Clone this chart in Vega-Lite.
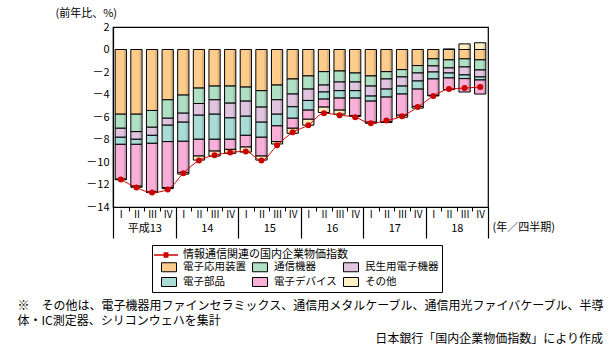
{
  "$schema": "https://vega.github.io/schema/vega-lite/v6.json",
  "width": 375,
  "height": 180,
  "autosize": {"type": "none"},
  "padding": {"left": 113, "top": 27, "right": 125, "bottom": 145},
  "config": {
    "font": "Noto Sans CJK JP",
    "view": {"stroke": "#000", "strokeWidth": 1.2},
    "axis": {"domainColor": "#000", "tickColor": "#000", "labelColor": "#000", "titleColor": "#000", "grid": false, "labelFont": "Noto Sans CJK JP", "titleFont": "Noto Sans CJK JP"},
    "axisY": {"labelOverlap": false},
    "legend": {"labelFont": "Noto Sans CJK JP", "titleFont": "Noto Sans CJK JP", "labelColor": "#000", "titleColor": "#000"}
  },
  "title": {
    "text": "日本銀行「国内企業物価指数」により作成",
    "orient": "bottom",
    "anchor": "end",
    "frame": "group",
    "dx": 115,
    "offset": 8,
    "fontSize": 12,
    "fontWeight": "normal",
    "color": "#000"
  },
  "datasets": {
    "bars": [
      {"q": "13 I", "yr": "平成13", "cat": "電子応用装置", "ord": 1, "v": -5.75},
      {"q": "13 I", "yr": "平成13", "cat": "通信機器", "ord": 2, "v": -1.25},
      {"q": "13 I", "yr": "平成13", "cat": "民生用電子機器", "ord": 3, "v": -0.8},
      {"q": "13 I", "yr": "平成13", "cat": "電子部品", "ord": 4, "v": -0.63},
      {"q": "13 I", "yr": "平成13", "cat": "電子デバイス", "ord": 5, "v": -3.1},
      {"q": "13 I", "yr": "平成13", "cat": "その他", "ord": 6, "v": -0.05},
      {"q": "13 II", "yr": "平成13", "cat": "電子応用装置", "ord": 1, "v": -5.75},
      {"q": "13 II", "yr": "平成13", "cat": "通信機器", "ord": 2, "v": -1.55},
      {"q": "13 II", "yr": "平成13", "cat": "民生用電子機器", "ord": 3, "v": -0.68},
      {"q": "13 II", "yr": "平成13", "cat": "電子部品", "ord": 4, "v": -0.45},
      {"q": "13 II", "yr": "平成13", "cat": "電子デバイス", "ord": 5, "v": -3.72},
      {"q": "13 II", "yr": "平成13", "cat": "その他", "ord": 6, "v": -0.1},
      {"q": "13 III", "yr": "平成13", "cat": "電子応用装置", "ord": 1, "v": -5.42},
      {"q": "13 III", "yr": "平成13", "cat": "通信機器", "ord": 2, "v": -1.49},
      {"q": "13 III", "yr": "平成13", "cat": "民生用電子機器", "ord": 3, "v": -0.72},
      {"q": "13 III", "yr": "平成13", "cat": "電子部品", "ord": 4, "v": -0.71},
      {"q": "13 III", "yr": "平成13", "cat": "電子デバイス", "ord": 5, "v": -4.32},
      {"q": "13 III", "yr": "平成13", "cat": "その他", "ord": 6, "v": -0.06},
      {"q": "13 IV", "yr": "平成13", "cat": "電子応用装置", "ord": 1, "v": -4.47},
      {"q": "13 IV", "yr": "平成13", "cat": "通信機器", "ord": 2, "v": -1.64},
      {"q": "13 IV", "yr": "平成13", "cat": "民生用電子機器", "ord": 3, "v": -0.62},
      {"q": "13 IV", "yr": "平成13", "cat": "電子部品", "ord": 4, "v": -1.46},
      {"q": "13 IV", "yr": "平成13", "cat": "電子デバイス", "ord": 5, "v": -4.08},
      {"q": "13 IV", "yr": "平成13", "cat": "その他", "ord": 6, "v": -0.1},
      {"q": "14 I", "yr": "14", "cat": "電子応用装置", "ord": 1, "v": -4.05},
      {"q": "14 I", "yr": "14", "cat": "通信機器", "ord": 2, "v": -1.61},
      {"q": "14 I", "yr": "14", "cat": "民生用電子機器", "ord": 3, "v": -0.8},
      {"q": "14 I", "yr": "14", "cat": "電子部品", "ord": 4, "v": -1.7},
      {"q": "14 I", "yr": "14", "cat": "電子デバイス", "ord": 5, "v": -2.77},
      {"q": "14 I", "yr": "14", "cat": "その他", "ord": 6, "v": -0.15},
      {"q": "14 II", "yr": "14", "cat": "電子応用装置", "ord": 1, "v": -3.43},
      {"q": "14 II", "yr": "14", "cat": "通信機器", "ord": 2, "v": -1.37},
      {"q": "14 II", "yr": "14", "cat": "民生用電子機器", "ord": 3, "v": -1.04},
      {"q": "14 II", "yr": "14", "cat": "電子部品", "ord": 4, "v": -2.14},
      {"q": "14 II", "yr": "14", "cat": "電子デバイス", "ord": 5, "v": -1.49},
      {"q": "14 II", "yr": "14", "cat": "その他", "ord": 6, "v": -0.36},
      {"q": "14 III", "yr": "14", "cat": "電子応用装置", "ord": 1, "v": -3.25},
      {"q": "14 III", "yr": "14", "cat": "通信機器", "ord": 2, "v": -1.22},
      {"q": "14 III", "yr": "14", "cat": "民生用電子機器", "ord": 3, "v": -1.28},
      {"q": "14 III", "yr": "14", "cat": "電子部品", "ord": 4, "v": -2.23},
      {"q": "14 III", "yr": "14", "cat": "電子デバイス", "ord": 5, "v": -1.05},
      {"q": "14 III", "yr": "14", "cat": "その他", "ord": 6, "v": -0.44},
      {"q": "14 IV", "yr": "14", "cat": "電子応用装置", "ord": 1, "v": -3.25},
      {"q": "14 IV", "yr": "14", "cat": "通信機器", "ord": 2, "v": -1.52},
      {"q": "14 IV", "yr": "14", "cat": "民生用電子機器", "ord": 3, "v": -1.31},
      {"q": "14 IV", "yr": "14", "cat": "電子部品", "ord": 4, "v": -1.9},
      {"q": "14 IV", "yr": "14", "cat": "電子デバイス", "ord": 5, "v": -0.9},
      {"q": "14 IV", "yr": "14", "cat": "その他", "ord": 6, "v": -0.35},
      {"q": "15 I", "yr": "15", "cat": "電子応用装置", "ord": 1, "v": -3.34},
      {"q": "15 I", "yr": "15", "cat": "通信機器", "ord": 2, "v": -1.25},
      {"q": "15 I", "yr": "15", "cat": "民生用電子機器", "ord": 3, "v": -1.34},
      {"q": "15 I", "yr": "15", "cat": "電子部品", "ord": 4, "v": -1.7},
      {"q": "15 I", "yr": "15", "cat": "電子デバイス", "ord": 5, "v": -1.04},
      {"q": "15 I", "yr": "15", "cat": "その他", "ord": 6, "v": -0.45},
      {"q": "15 II", "yr": "15", "cat": "電子応用装置", "ord": 1, "v": -3.66},
      {"q": "15 II", "yr": "15", "cat": "通信機器", "ord": 2, "v": -1.46},
      {"q": "15 II", "yr": "15", "cat": "民生用電子機器", "ord": 3, "v": -1.34},
      {"q": "15 II", "yr": "15", "cat": "電子部品", "ord": 4, "v": -1.34},
      {"q": "15 II", "yr": "15", "cat": "電子デバイス", "ord": 5, "v": -1.67},
      {"q": "15 II", "yr": "15", "cat": "その他", "ord": 6, "v": -0.36},
      {"q": "15 III", "yr": "15", "cat": "電子応用装置", "ord": 1, "v": -3.16},
      {"q": "15 III", "yr": "15", "cat": "通信機器", "ord": 2, "v": -1.31},
      {"q": "15 III", "yr": "15", "cat": "民生用電子機器", "ord": 3, "v": -1.28},
      {"q": "15 III", "yr": "15", "cat": "電子部品", "ord": 4, "v": -1.04},
      {"q": "15 III", "yr": "15", "cat": "電子デバイス", "ord": 5, "v": -1.4},
      {"q": "15 III", "yr": "15", "cat": "その他", "ord": 6, "v": -0.21},
      {"q": "15 IV", "yr": "15", "cat": "電子応用装置", "ord": 1, "v": -2.62},
      {"q": "15 IV", "yr": "15", "cat": "通信機器", "ord": 2, "v": -1.34},
      {"q": "15 IV", "yr": "15", "cat": "民生用電子機器", "ord": 3, "v": -1.13},
      {"q": "15 IV", "yr": "15", "cat": "電子部品", "ord": 4, "v": -1.02},
      {"q": "15 IV", "yr": "15", "cat": "電子デバイス", "ord": 5, "v": -0.89},
      {"q": "15 IV", "yr": "15", "cat": "その他", "ord": 6, "v": -0.45},
      {"q": "16 I", "yr": "16", "cat": "電子応用装置", "ord": 1, "v": -2.35},
      {"q": "16 I", "yr": "16", "cat": "通信機器", "ord": 2, "v": -1.17},
      {"q": "16 I", "yr": "16", "cat": "民生用電子機器", "ord": 3, "v": -1.01},
      {"q": "16 I", "yr": "16", "cat": "電子部品", "ord": 4, "v": -0.86},
      {"q": "16 I", "yr": "16", "cat": "電子デバイス", "ord": 5, "v": -0.81},
      {"q": "16 I", "yr": "16", "cat": "その他", "ord": 6, "v": -0.53},
      {"q": "16 II", "yr": "16", "cat": "電子応用装置", "ord": 1, "v": -1.97},
      {"q": "16 II", "yr": "16", "cat": "通信機器", "ord": 2, "v": -1.19},
      {"q": "16 II", "yr": "16", "cat": "民生用電子機器", "ord": 3, "v": -0.62},
      {"q": "16 II", "yr": "16", "cat": "電子部品", "ord": 4, "v": -0.63},
      {"q": "16 II", "yr": "16", "cat": "電子デバイス", "ord": 5, "v": -0.71},
      {"q": "16 II", "yr": "16", "cat": "その他", "ord": 6, "v": -0.48},
      {"q": "16 III", "yr": "16", "cat": "電子応用装置", "ord": 1, "v": -1.91},
      {"q": "16 III", "yr": "16", "cat": "通信機器", "ord": 2, "v": -0.98},
      {"q": "16 III", "yr": "16", "cat": "民生用電子機器", "ord": 3, "v": -0.77},
      {"q": "16 III", "yr": "16", "cat": "電子部品", "ord": 4, "v": -0.66},
      {"q": "16 III", "yr": "16", "cat": "電子デバイス", "ord": 5, "v": -1.07},
      {"q": "16 III", "yr": "16", "cat": "その他", "ord": 6, "v": -0.36},
      {"q": "16 IV", "yr": "16", "cat": "電子応用装置", "ord": 1, "v": -2.09},
      {"q": "16 IV", "yr": "16", "cat": "通信機器", "ord": 2, "v": -0.8},
      {"q": "16 IV", "yr": "16", "cat": "民生用電子機器", "ord": 3, "v": -0.77},
      {"q": "16 IV", "yr": "16", "cat": "電子部品", "ord": 4, "v": -0.66},
      {"q": "16 IV", "yr": "16", "cat": "電子デバイス", "ord": 5, "v": -1.55},
      {"q": "16 IV", "yr": "16", "cat": "その他", "ord": 6, "v": -0.09},
      {"q": "17 I", "yr": "17", "cat": "電子応用装置", "ord": 1, "v": -2.35},
      {"q": "17 I", "yr": "17", "cat": "通信機器", "ord": 2, "v": -0.9},
      {"q": "17 I", "yr": "17", "cat": "民生用電子機器", "ord": 3, "v": -0.89},
      {"q": "17 I", "yr": "17", "cat": "電子部品", "ord": 4, "v": -0.45},
      {"q": "17 I", "yr": "17", "cat": "電子デバイス", "ord": 5, "v": -1.87},
      {"q": "17 I", "yr": "17", "cat": "その他", "ord": 6, "v": -0.1},
      {"q": "17 II", "yr": "17", "cat": "電子応用装置", "ord": 1, "v": -1.97},
      {"q": "17 II", "yr": "17", "cat": "通信機器", "ord": 2, "v": -0.65},
      {"q": "17 II", "yr": "17", "cat": "民生用電子機器", "ord": 3, "v": -0.9},
      {"q": "17 II", "yr": "17", "cat": "電子部品", "ord": 4, "v": -0.71},
      {"q": "17 II", "yr": "17", "cat": "電子デバイス", "ord": 5, "v": -2.2},
      {"q": "17 II", "yr": "17", "cat": "その他", "ord": 6, "v": -0.05},
      {"q": "17 III", "yr": "17", "cat": "電子応用装置", "ord": 1, "v": -1.79},
      {"q": "17 III", "yr": "17", "cat": "通信機器", "ord": 2, "v": -0.65},
      {"q": "17 III", "yr": "17", "cat": "民生用電子機器", "ord": 3, "v": -0.81},
      {"q": "17 III", "yr": "17", "cat": "電子部品", "ord": 4, "v": -0.71},
      {"q": "17 III", "yr": "17", "cat": "電子デバイス", "ord": 5, "v": -1.88},
      {"q": "17 III", "yr": "17", "cat": "その他", "ord": 6, "v": -0.18},
      {"q": "17 IV", "yr": "17", "cat": "電子応用装置", "ord": 1, "v": -1.43},
      {"q": "17 IV", "yr": "17", "cat": "通信機器", "ord": 2, "v": -0.66},
      {"q": "17 IV", "yr": "17", "cat": "民生用電子機器", "ord": 3, "v": -0.71},
      {"q": "17 IV", "yr": "17", "cat": "電子部品", "ord": 4, "v": -0.72},
      {"q": "17 IV", "yr": "17", "cat": "電子デバイス", "ord": 5, "v": -1.54},
      {"q": "17 IV", "yr": "17", "cat": "その他", "ord": 6, "v": -0.15},
      {"q": "18 I", "yr": "18", "cat": "電子応用装置", "ord": 1, "v": -0.83},
      {"q": "18 I", "yr": "18", "cat": "通信機器", "ord": 2, "v": -0.63},
      {"q": "18 I", "yr": "18", "cat": "民生用電子機器", "ord": 3, "v": -0.54},
      {"q": "18 I", "yr": "18", "cat": "電子部品", "ord": 4, "v": -0.62},
      {"q": "18 I", "yr": "18", "cat": "電子デバイス", "ord": 5, "v": -1.46},
      {"q": "18 I", "yr": "18", "cat": "その他", "ord": 6, "v": -0.05},
      {"q": "18 II", "yr": "18", "cat": "電子応用装置", "ord": 1, "v": -0.92},
      {"q": "18 II", "yr": "18", "cat": "通信機器", "ord": 2, "v": -0.72},
      {"q": "18 II", "yr": "18", "cat": "民生用電子機器", "ord": 3, "v": -0.45},
      {"q": "18 II", "yr": "18", "cat": "電子部品", "ord": 4, "v": -0.44},
      {"q": "18 II", "yr": "18", "cat": "電子デバイス", "ord": 5, "v": -1.04},
      {"q": "18 II", "yr": "18", "cat": "その他", "ord": 6, "v": 0.05},
      {"q": "18 III", "yr": "18", "cat": "電子応用装置", "ord": 1, "v": -0.83},
      {"q": "18 III", "yr": "18", "cat": "通信機器", "ord": 2, "v": -0.72},
      {"q": "18 III", "yr": "18", "cat": "民生用電子機器", "ord": 3, "v": -0.71},
      {"q": "18 III", "yr": "18", "cat": "電子部品", "ord": 4, "v": -0.33},
      {"q": "18 III", "yr": "18", "cat": "電子デバイス", "ord": 5, "v": -1.19},
      {"q": "18 III", "yr": "18", "cat": "その他", "ord": 6, "v": 0.5},
      {"q": "18 IV", "yr": "18", "cat": "電子応用装置", "ord": 1, "v": -0.92},
      {"q": "18 IV", "yr": "18", "cat": "通信機器", "ord": 2, "v": -0.9},
      {"q": "18 IV", "yr": "18", "cat": "民生用電子機器", "ord": 3, "v": -0.62},
      {"q": "18 IV", "yr": "18", "cat": "電子部品", "ord": 4, "v": -0.27},
      {"q": "18 IV", "yr": "18", "cat": "電子デバイス", "ord": 5, "v": -1.25},
      {"q": "18 IV", "yr": "18", "cat": "その他", "ord": 6, "v": 0.6}
    ],
    "idx": [
      {"q": "13 I", "s": "情報通信関連の国内企業物価指数", "v": -11.55},
      {"q": "13 II", "s": "情報通信関連の国内企業物価指数", "v": -12.27},
      {"q": "13 III", "s": "情報通信関連の国内企業物価指数", "v": -12.72},
      {"q": "13 IV", "s": "情報通信関連の国内企業物価指数", "v": -12.45},
      {"q": "14 I", "s": "情報通信関連の国内企業物価指数", "v": -11.0},
      {"q": "14 II", "s": "情報通信関連の国内企業物価指数", "v": -9.86},
      {"q": "14 III", "s": "情報通信関連の国内企業物価指数", "v": -9.41},
      {"q": "14 IV", "s": "情報通信関連の国内企業物価指数", "v": -9.15},
      {"q": "15 I", "s": "情報通信関連の国内企業物価指数", "v": -9.06},
      {"q": "15 II", "s": "情報通信関連の国内企業物価指数", "v": -9.86},
      {"q": "15 III", "s": "情報通信関連の国内企業物価指数", "v": -8.52},
      {"q": "15 IV", "s": "情報通信関連の国内企業物価指数", "v": -7.36},
      {"q": "16 I", "s": "情報通信関連の国内企業物価指数", "v": -6.73},
      {"q": "16 II", "s": "情報通信関連の国内企業物価指数", "v": -5.66},
      {"q": "16 III", "s": "情報通信関連の国内企業物価指数", "v": -5.84},
      {"q": "16 IV", "s": "情報通信関連の国内企業物価指数", "v": -6.02},
      {"q": "17 I", "s": "情報通信関連の国内企業物価指数", "v": -6.55},
      {"q": "17 II", "s": "情報通信関連の国内企業物価指数", "v": -6.32},
      {"q": "17 III", "s": "情報通信関連の国内企業物価指数", "v": -5.93},
      {"q": "17 IV", "s": "情報通信関連の国内企業物価指数", "v": -5.12},
      {"q": "18 I", "s": "情報通信関連の国内企業物価指数", "v": -4.14},
      {"q": "18 II", "s": "情報通信関連の国内企業物価指数", "v": -3.52},
      {"q": "18 III", "s": "情報通信関連の国内企業物価指数", "v": -3.43},
      {"q": "18 IV", "s": "情報通信関連の国内企業物価指数", "v": -3.34}
    ]
  },
  "layer": [
    {
      "layer": [
        {
          "data": {"name": "bars"},
          "mark": {"type": "bar", "width": {"band": 0.72}, "stroke": "#000", "strokeWidth": 1},
          "encoding": {
            "x": {
              "field": "q", "type": "nominal", "sort": null,
              "scale": {"paddingInner": 0, "paddingOuter": 0},
              "axis": {
                "orient": "bottom",
                "labelExpr": "split(datum.value, ' ')[1]",
                "labelAngle": 0,
                "labelFontSize": 10,
                "labelPadding": -2,
                "tickBand": "extent",
                "tickSize": 4,
                "domainWidth": 1.2,
                "title": ["※　その他は、電子機器用ファインセラミックス、通信用メタルケーブル、通信用光ファイバケーブル、半導", "体・IC測定器、シリコンウェハを集計"],
                "titleX": -96,
                "titleY": 93,
                "titleAlign": "left",
                "titleBaseline": "top",
                "titleAngle": 0,
                "titleFontSize": 12,
                "titleFontWeight": "normal",
                "titleLineHeight": 15
              }
            },
            "y": {
              "field": "v", "type": "quantitative", "stack": "zero",
              "scale": {"domain": [-14, 2], "nice": false},
              "axis": {
                "orient": "left",
                "values": [-14, -10, -6, -2, 2],
                "labelExpr": "datum.value < 0 ? '－' + abs(datum.value) : '' + datum.value",
                "labelFontSize": 11,
                "labelOverlap": false,
                "ticks": false,
                "labelPadding": 4,
                "domainWidth": 1.2,
                "title": "(前年比、%)",
                "titleX": -58,
                "titleY": -14,
                "titleAngle": 0,
                "titleAlign": "left",
                "titleBaseline": "middle",
                "titleFontSize": 11,
                "titleFontWeight": "normal"
              }
            },
            "fill": {
              "field": "cat", "type": "nominal",
              "scale": {
                "domain": ["電子応用装置", "通信機器", "民生用電子機器", "電子部品", "電子デバイス", "その他"],
                "range": ["#FFCC8C", "#B0E0C4", "#E0C4E0", "#A8DCD4", "#F8B0D8", "#FFF0C4"]
              },
              "legend": {
                "orient": "none",
                "legendX": 39,
                "legendY": 218,
                "columns": 3,
                "direction": "horizontal",
                "symbolType": "M-1,-0.6L1,-0.6L1,0.6L-1,0.6Z",
                "symbolSize": 225,
                "symbolOffset": 6,
                "symbolStrokeColor": "#000",
                "symbolStrokeWidth": 1,
                "symbolOpacity": 1,
                "labelFontSize": 10.5,
                "labelOffset": 6,
                "columnPadding": 0,
                "rowPadding": -5,
                "title": "\u200b",
                "titleFontSize": 11,
                "titleFontWeight": "normal",
                "titlePadding": 0,
                "strokeColor": "#000",
                "padding": 3
              }
            },
            "order": {"field": "ord", "type": "quantitative"}
          }
        },
        {
          "data": {"name": "bars"},
          "mark": {"type": "bar", "width": {"band": 0.15}, "xOffset": 4.2, "color": "#000", "opacity": 0.13},
          "encoding": {
            "x": {"field": "q", "type": "nominal", "sort": null},
            "y": {"field": "v", "type": "quantitative", "stack": "zero", "axis": null},
            "detail": {"field": "cat"},
            "order": {"field": "ord", "type": "quantitative"}
          }
        },
        {
          "mark": {"type": "rule", "color": "#000", "strokeWidth": 1.2},
          "encoding": {"y": {"datum": 0, "axis": null}}
        },
        {
          "data": {"name": "idx"},
          "mark": {"type": "line", "interpolate": "monotone", "strokeWidth": 1},
          "encoding": {
            "x": {"field": "q", "type": "nominal", "sort": null},
            "y": {
              "field": "v", "type": "quantitative",
              "axis": {
                "orient": "left",
                "values": [-12, -8, -4, 0],
                "labelExpr": "datum.value < 0 ? '－' + abs(datum.value) : '' + datum.value",
                "labelFontSize": 11,
                "labelOverlap": false,
                "ticks": false,
                "domain": false,
                "labelPadding": 4,
                "title": null
              }
            },
            "stroke": {
              "field": "s", "type": "nominal",
              "scale": {"range": ["#CC0000"]},
              "legend": {
                "orient": "none",
                "legendX": 40,
                "legendY": 215,
                "title": null,
                "padding": 0,
                "symbolType": "M-1,0L1,0M-0.2,-0.17L0.2,-0.17M-0.2,-0.085L0.2,-0.085M-0.2,0L0.2,0M-0.2,0.085L0.2,0.085M-0.2,0.17L0.2,0.17",
                "symbolSize": 576,
                "symbolStrokeWidth": 1.5,
                "labelFontSize": 11,
                "labelOffset": 4,
                "labelLimit": 400
              }
            }
          }
        },
        {
          "data": {"name": "idx"},
          "mark": {"type": "point", "filled": true, "shape": "circle", "size": 36, "color": "#CC0000", "opacity": 1},
          "encoding": {
            "x": {"field": "q", "type": "nominal", "sort": null},
            "y": {"field": "v", "type": "quantitative", "axis": null}
          }
        }
      ],
      "resolve": {"axis": {"y": "independent"}}
    },
    {
      "data": {"name": "bars"},
      "mark": {"type": "rule", "opacity": 0},
      "encoding": {
        "x": {
          "field": "yr", "type": "nominal", "sort": null,
          "scale": {"paddingInner": 0, "paddingOuter": 0},
          "axis": {
            "orient": "bottom",
            "domain": false,
            "labelAngle": 0,
            "labelFontSize": 11,
            "labelBaseline": "middle",
            "labelPadding": -10,
            "tickBand": "extent",
            "tickSize": 31,
            "tickWidth": 1.2,
            "title": "(年／四半期)",
            "titleX": 379,
            "titleY": 20,
            "titleAlign": "left",
            "titleBaseline": "middle",
            "titleAngle": 0,
            "titleFontSize": 11,
            "titleFontWeight": "normal"
          }
        }
      }
    }
  ],
  "resolve": {"scale": {"x": "independent"}, "axis": {"x": "independent", "y": "independent"}}
}
